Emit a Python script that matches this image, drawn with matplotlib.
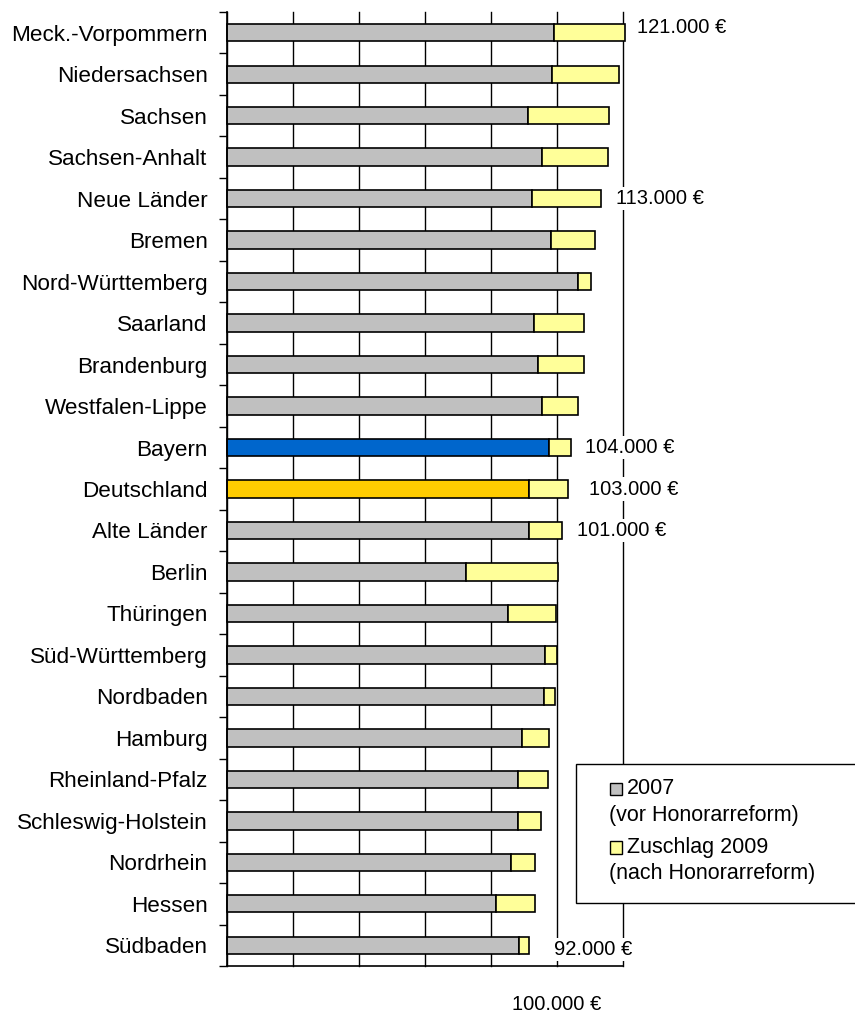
import numpy as np
import matplotlib
matplotlib.use("Agg")
import matplotlib.pyplot as plt
from matplotlib.patches import Rectangle

plt.rcParams['font.family'] = ['Liberation Sans', 'DejaVu Sans']

# --- data (euro) ---
regions = ["Meck.-Vorpommern", "Niedersachsen", "Sachsen", "Sachsen-Anhalt",
           "Neue Länder", "Bremen", "Nord-Württemberg", "Saarland", "Brandenburg",
           "Westfalen-Lippe", "Bayern", "Deutschland", "Alte Länder", "Berlin",
           "Thüringen", "Süd-Württemberg", "Nordbaden", "Hamburg", "Rheinland-Pfalz",
           "Schleswig-Holstein", "Nordrhein", "Hessen", "Südbaden"]
honorar_2007 = [99000, 98500, 91200, 95500, 92400, 98100, 106400, 92900, 94200,
                95500, 97600, 91500, 91600, 72500, 85200, 96400, 96000, 89500,
                88200, 88200, 86000, 81600, 88600]
zuschlag_2009 = [21700, 20400, 24700, 20000, 20900, 13400, 3900, 15300, 14000,
                 10900, 6600, 11700, 9900, 27800, 14600, 3500, 3400, 8200,
                 9200, 6900, 7400, 11800, 3000]

label_regions = ["Meck.-Vorpommern", "Neue Länder", "Bayern", "Deutschland",
                 "Alte Länder", "Südbaden"]
label_texts = ["121.000 €", "113.000 €", "104.000 €", "103.000 €", "101.000 €", "92.000 €"]

legend_titles = ["2007", "Zuschlag 2009"]
legend_notes = ["(vor Honorarreform)", "(nach Honorarreform)"]

# --- styling ---
W, H = 855, 1013
col_gray = "#C0C0C0"
col_yellow = "#FFFF99"
highlight = {"Bayern": "#0066CC", "Deutschland": "#FFCC00"}
label_offsets = [(12, -5), (15, 0), (14, 0), (21, 0), (15, 0), (25, 4)]  # pixels

fig = plt.figure(figsize=(W / 100, H / 100), dpi=100)
ax = fig.add_axes([227 / W, 1 - 966 / H, (623 - 227) / W, (966 - 12) / H])

n = len(regions)
y = np.arange(n)
base = np.array(honorar_2007)
extra = np.array(zuschlag_2009)
colors = [highlight.get(r, col_gray) for r in regions]

ax.barh(y, base, height=0.42, color=colors, edgecolor="black", linewidth=1.2,
        clip_on=False, zorder=2)
ax.barh(y, extra, left=base, height=0.42, color=col_yellow, edgecolor="black",
        linewidth=1.2, clip_on=False, zorder=2)

ax.set_xlim(0, 120000)
ax.set_ylim(n - 0.5, -0.5)

ax.set_xticks(range(0, 120001, 20000))
ax.set_xticklabels(["100.000 €" if v == 100000 else "" for v in range(0, 120001, 20000)],
                   fontsize=14.5)
ax.tick_params(axis="x", length=0, pad=21)
ax.grid(axis="x", color="black", linewidth=1)
for gl in ax.get_xgridlines():
    gl.set_clip_on(False)
ax.set_axisbelow(True)

ax.set_yticks(y)
ax.set_yticklabels(regions, fontsize=16.2)
ax.set_yticks(np.arange(-0.5, n), minor=True)
ax.tick_params(axis="y", which="major", length=0, pad=14)
ax.tick_params(axis="y", which="minor", length=5.5, width=1, direction="out")

for s in ["top", "right"]:
    ax.spines[s].set_visible(False)
for s in ["left", "bottom"]:
    ax.spines[s].set_linewidth(1.2)
    ax.spines[s].set_zorder(3)

totals = base + extra
for name, txt, (dx, dy) in zip(label_regions, label_texts, label_offsets):
    i = regions.index(name)
    ax.annotate(txt, xy=(totals[i], i), xytext=(dx, -dy), textcoords="offset pixels",
                va="center", ha="left", fontsize=14.5, annotation_clip=False,
                bbox=dict(facecolor="white", edgecolor="none", pad=1.5), zorder=4)

# legend box (extends past right edge like the original)
def fx(px):
    return px / W

def fy(py):
    return 1 - py / H

fig.patches.append(Rectangle((fx(576), fy(903)), 300 / W, (903 - 764) / H,
                             transform=fig.transFigure, facecolor="white",
                             edgecolor="black", linewidth=1, zorder=5))
for k, (title, note, c) in enumerate(zip(legend_titles, legend_notes, [col_gray, col_yellow])):
    top = 789 + k * 58
    fig.patches.append(Rectangle((fx(609.5), fy(top + 6.5)), 12.5 / W, 12.5 / H,
                                 transform=fig.transFigure, facecolor=c,
                                 edgecolor="black", linewidth=1, zorder=6))
    fig.text(fx(627), fy(top), title, fontsize=15.5, va="center", ha="left", zorder=6)
    fig.text(fx(609), fy(top + 26), note, fontsize=15.5, va="center", ha="left", zorder=6)

fig.savefig("out.png", dpi=100)
